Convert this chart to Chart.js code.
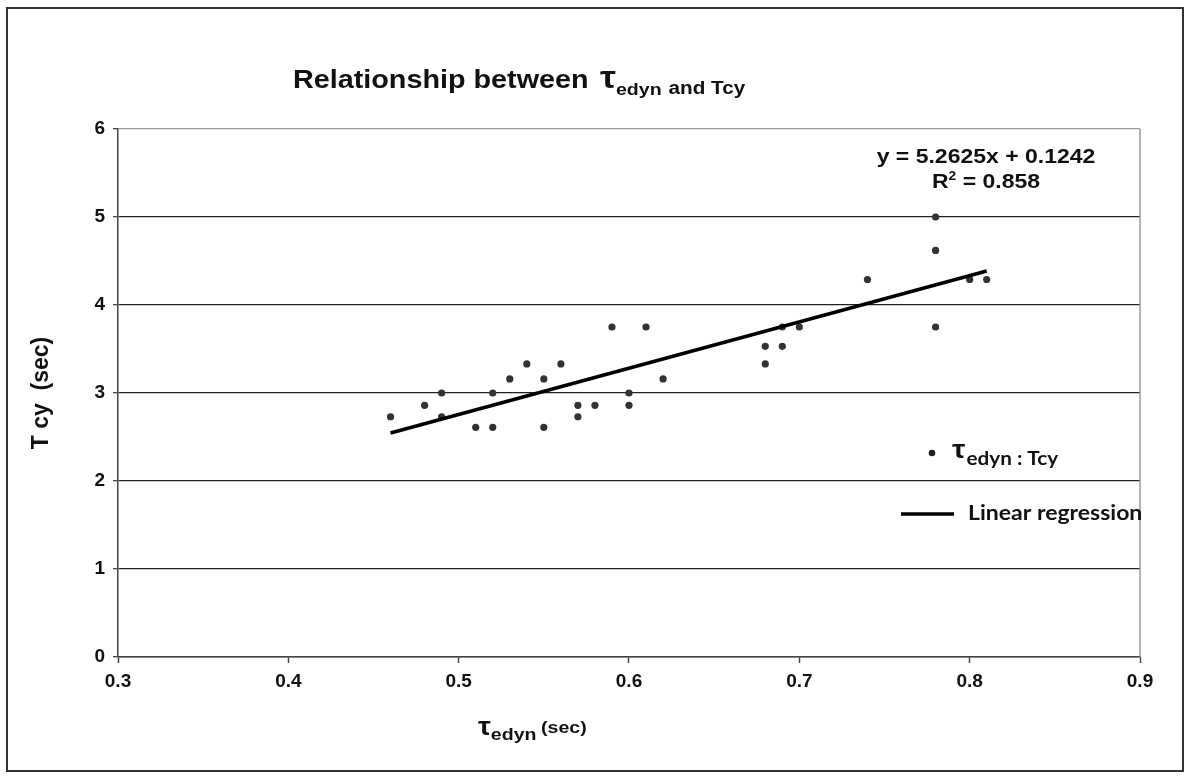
<!DOCTYPE html>
<html>
<head>
<meta charset="utf-8">
<script src="https://cdn.jsdelivr.net/npm/chart.js@4"></script>
<style>
  body { margin: 0; background: #fff; }
  canvas { display: block; }
</style>
</head>
<body>
<canvas id="chart" width="1190" height="779"></canvas>
<script>
// data
const tauEdyn = [0.46, 0.48, 0.49, 0.49, 0.51, 0.52, 0.52, 0.53, 0.54, 0.55, 0.55, 0.56, 0.57, 0.57, 0.58, 0.59,
                 0.60, 0.60, 0.61, 0.62, 0.68, 0.68, 0.69, 0.69, 0.70, 0.74, 0.78, 0.78, 0.78, 0.80, 0.81];
const tCy = [2.73, 2.86, 3.00, 2.73, 2.61, 3.00, 2.61, 3.16, 3.33, 3.16, 2.61, 3.33, 2.86, 2.73, 2.86, 3.75,
             3.00, 2.86, 3.75, 3.16, 3.53, 3.33, 3.53, 3.75, 3.75, 4.29, 5.00, 4.62, 3.75, 4.29, 4.29];

// trend line ends
const fitX = [0.46, 0.81];
const fitY = [2.545, 4.387];

const xTicks = [0.3, 0.4, 0.5, 0.6, 0.7, 0.8, 0.9];
const yTicks = [0, 1, 2, 3, 4, 5, 6];

const equationText = "y = 5.2625x + 0.1242";
const r2Value = "0.858";

const FONT = "'Liberation Sans', Arial, sans-serif";
const LFONT = "Lato, 'Liberation Sans', sans-serif";
const SX = 1.15; // text in the picture is a bit wide

// draws a row of text pieces (for subscripts)
function drawRuns(ctx, x, y, runs, align) {
    ctx.save();
    ctx.translate(x, y);
    ctx.scale(SX, 1);
    ctx.fillStyle = "#111";
    ctx.textBaseline = "alphabetic";
    ctx.textAlign = "left";
    let total = 0;
    runs.forEach((r) => {
        ctx.font = r.font;
        r.w = ctx.measureText(r.text).width;
        total += r.w + (r.gap || 0);
    });
    let cx = align === "center" ? -total / 2 : 0;
    runs.forEach((r) => {
        ctx.font = r.font;
        cx += r.gap || 0;
        ctx.fillText(r.text, cx, r.dy || 0);
        cx += r.w;
    });
    ctx.restore();
}

const decorPlugin = {
    id: "decor",
    beforeDraw(chart) {
        const ctx = chart.ctx;
        ctx.save();
        ctx.fillStyle = "#fff";
        ctx.fillRect(0, 0, chart.width, chart.height);
        ctx.strokeStyle = "#333";
        ctx.lineWidth = 2;
        ctx.strokeRect(7, 8, 1176, 763);
        ctx.restore();
    },
    afterDraw(chart) {
        const ctx = chart.ctx;
        const a = chart.chartArea;

        // right border of plot
        ctx.save();
        ctx.strokeStyle = "#999";
        ctx.lineWidth = 1.5;
        ctx.beginPath();
        ctx.moveTo(a.right, a.top);
        ctx.lineTo(a.right, a.bottom);
        ctx.stroke();
        ctx.restore();

        // title
        drawRuns(ctx, 293, 88, [
            { text: "Relationship between", font: "bold 25px " + FONT },
            { text: "τ", font: "bold 31px " + FONT, gap: 10 },
            { text: "edyn", font: "bold 17px " + FONT, dy: 7 },
            { text: "and Tcy", font: "bold 18px " + FONT, dy: 6, gap: 6 }
        ]);

        // y axis title
        ctx.save();
        ctx.translate(42, 393);
        ctx.rotate(-Math.PI / 2);
        ctx.font = "bold 23px " + FONT;
        ctx.fillStyle = "#111";
        ctx.textAlign = "center";
        ctx.textBaseline = "middle";
        ctx.fillText("T cy  (sec)", 0, 0);
        ctx.restore();

        // x axis title
        drawRuns(ctx, 478, 735, [
            { text: "τ", font: "bold 25px " + FONT },
            { text: "edyn", font: "bold 17px " + FONT, dy: 5 },
            { text: "(sec)", font: "bold 17px " + FONT, dy: -2, gap: 4 }
        ]);

        // trend equation
        drawRuns(ctx, 986, 163, [{ text: equationText, font: "bold 20px " + FONT }], "center");
        drawRuns(ctx, 986, 188, [
            { text: "R", font: "bold 20px " + FONT },
            { text: "2", font: "bold 12px " + FONT, dy: -8 },
            { text: " = " + r2Value, font: "bold 20px " + FONT }
        ], "center");

        // legend
        ctx.save();
        ctx.fillStyle = "#222";
        ctx.beginPath();
        ctx.arc(932, 453, 3.3, 0, Math.PI * 2);
        ctx.fill();
        ctx.strokeStyle = "#000";
        ctx.lineWidth = 3.5;
        ctx.beginPath();
        ctx.moveTo(901, 514);
        ctx.lineTo(954, 514);
        ctx.stroke();
        ctx.restore();
        drawRuns(ctx, 952, 458, [
            { text: "τ", font: "bold 26px " + FONT },
            { text: "edyn : Tcy", font: "bold 18px " + LFONT, dy: 7, gap: 1 }
        ]);
        drawRuns(ctx, 968, 520, [{ text: "Linear regression", font: "bold 20px " + LFONT }]);
    }
};

const points = tauEdyn.map((x, i) => ({ x: x, y: tCy[i] }));
const fitLine = fitX.map((x, i) => ({ x: x, y: fitY[i] }));

const tickFont = { family: FONT, size: 19, weight: "bold" };

const ctx = document.getElementById("chart");
const chart = new Chart(ctx, {
    type: "scatter",
    data: {
        datasets: [
            {
                label: "Linear regression",
                data: fitLine,
                showLine: true,
                borderColor: "#000",
                borderWidth: 3.5,
                pointRadius: 0,
                order: 0
            },
            {
                label: "τedyn : Tcy",
                data: points,
                backgroundColor: "#333",
                borderWidth: 0,
                pointRadius: 3.6,
                order: 1
            }
        ]
    },
    options: {
        responsive: false,
        devicePixelRatio: 1,
        animation: false,
        layout: { padding: { left: 58, right: 50, top: 129, bottom: 82 } },
        plugins: {
            legend: { display: false },
            title: { display: false },
            tooltip: { enabled: false }
        },
        scales: {
            x: {
                type: "linear",
                min: 0.3,
                max: 0.9,
                afterBuildTicks: (s) => { s.ticks = xTicks.map((v) => ({ value: v })); },
                ticks: {
                    callback: (v) => v.toFixed(1),
                    font: tickFont,
                    color: "#111",
                    padding: 7,
                    maxRotation: 0
                },
                grid: { drawOnChartArea: false, drawTicks: true, tickLength: 6, tickColor: "#444", tickWidth: 1.5 },
                border: { color: "#444", width: 1.5 },
                afterFit: (s) => { s.height = 40; }
            },
            y: {
                min: 0,
                max: 6,
                afterBuildTicks: (s) => { s.ticks = yTicks.map((v) => ({ value: v })); },
                ticks: {
                    font: tickFont,
                    color: "#111",
                    padding: 8
                },
                grid: {
                    color: (c) => (c.tick && c.tick.value === 6 ? "#999" : "#222"),
                    lineWidth: 1.3,
                    tickLength: 5,
                    tickColor: "#444"
                },
                border: { color: "#444", width: 1.5 },
                afterFit: (s) => { s.width = 60; }
            }
        }
    },
    plugins: [decorPlugin]
});
</script>
</body>
</html>
